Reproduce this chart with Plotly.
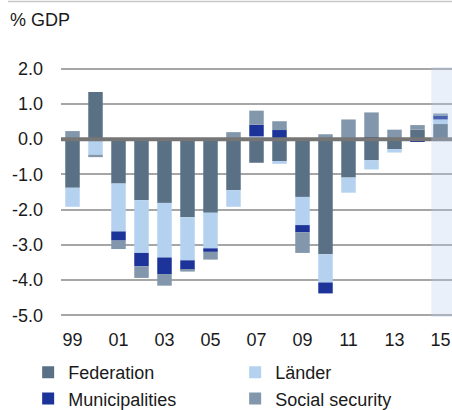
import plotly.graph_objects as go

years = list(range(1999, 2016))
federation = [-1.38, 1.34, -1.26, -1.73, -1.81, -2.22, -2.09, -1.45, -0.67, -0.62, -1.64, -3.27, -1.09, -0.60, -0.28, 0.27, 0.43]
laender = [-0.54, -0.44, -1.36, -1.50, -1.55, -1.22, -1.01, -0.47, 0.08, -0.08, -0.80, -0.80, -0.43, -0.26, -0.10, 0.00, 0.13]
municipalities = [0.00, 0.00, -0.26, -0.38, -0.47, -0.27, -0.10, 0.00, 0.33, 0.26, -0.20, -0.31, 0.00, 0.06, 0.00, -0.08, 0.12]
social_security = [0.23, -0.07, -0.24, -0.33, -0.33, -0.05, -0.22, 0.20, 0.40, 0.25, -0.59, 0.14, 0.56, 0.70, 0.27, 0.13, 0.05]

x_tick_vals = [1999, 2001, 2003, 2005, 2007, 2009, 2011, 2013, 2015]
x_tick_text = ["99", "01", "03", "05", "07", "09", "11", "13", "15"]
y_tick_vals = [2, 1, 0, -1, -2, -3, -4, -5]
y_tick_text = ["2.0", "1.0", "0.0", "-1.0", "-2.0", "-3.0", "-4.0", "-5.0"]

series = [
    ("Federation", federation, "#5a7085"),
    ("Länder", laender, "#b4d2f0"),
    ("Municipalities", municipalities, "#1c3399"),
    ("Social security", social_security, "#8297ab"),
]

FONT = "Liberation Sans, Arial, sans-serif"

fig = go.Figure()
for name, vals, col in series:
    fig.add_trace(go.Bar(x=years, y=vals, name=name, marker=dict(color=col, line=dict(width=0))))

fig.update_layout(
    width=452, height=410,
    margin=dict(l=61, r=0, t=67, b=93, autoexpand=False),
    barmode="relative",
    bargap=0.37,
    paper_bgcolor="white", plot_bgcolor="white",
    font=dict(family=FONT, size=18, color="#1a1a1a"),
    showlegend=True,
    legend=dict(
        orientation="h", x=-0.084, xanchor="left", y=-0.148, yanchor="top",
        entrywidth=162, entrywidthmode="pixels",
        font=dict(size=18, family=FONT, color="#1a1a1a"),
        itemwidth=30, tracegroupgap=0, bgcolor="rgba(0,0,0,0)",
        traceorder="normal",
    ),
    xaxis=dict(
        range=[1998.5, 2015.5], tickvals=x_tick_vals, ticktext=x_tick_text,
        showgrid=False, zeroline=False, showline=False, ticks="",
        ticklabelstandoff=10, automargin=False,
        tickfont=dict(size=18, family=FONT, color="#1a1a1a"),
    ),
    yaxis=dict(
        range=[-5.05, 2.05], tickvals=y_tick_vals, ticktext=y_tick_text,
        showgrid=True, gridcolor="#a6a6a6", gridwidth=1.5, zeroline=False,
        showline=False, ticks="", ticklabelstandoff=17, automargin=False,
        tickfont=dict(size=18, family=FONT, color="#1a1a1a"),
    ),
)

# thick zero line above bars
fig.add_shape(type="line", xref="paper", yref="y", x0=0, x1=1, y0=0, y1=0,
              line=dict(color="#767676", width=4), layer="above")
# highlighted forecast year
fig.add_shape(type="rect", xref="x", yref="y", x0=2014.6, x1=2015.5, y0=-5.05, y1=2.05,
              fillcolor="rgba(182,205,235,0.3)", line=dict(width=0), layer="above")
# top border line
fig.add_shape(type="line", xref="paper", yref="paper", x0=-0.1355, x1=1, y0=1.262, y1=1.262,
              line=dict(color="#c8c8c8", width=1.5))

fig.add_annotation(text="% GDP", xref="paper", yref="paper", x=-0.1355, y=1.188,
                   xanchor="left", yanchor="middle", showarrow=False,
                   font=dict(size=18, family=FONT, color="#1a1a1a"))

fig.write_html("out.html", config={"displayModeBar": False},
               post_script="document.body.style.margin='0';document.body.style.overflow='hidden';")
